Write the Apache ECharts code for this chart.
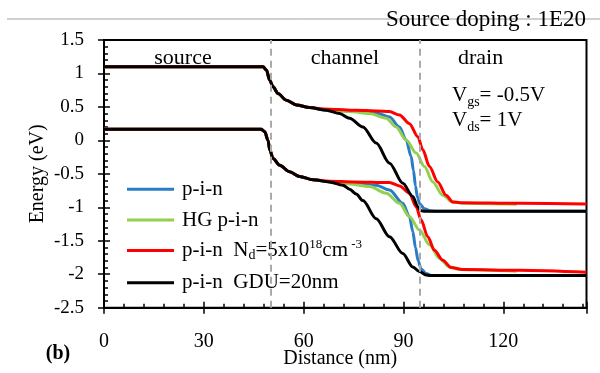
<!DOCTYPE html>
<html>
<head>
<meta charset="utf-8">
<script src="https://cdn.jsdelivr.net/npm/echarts@6/dist/echarts.min.js"></script>
<style>html,body{margin:0;padding:0;background:#fff;}#c{width:600px;height:373px;}</style>
</head>
<body>
<div id="c"></div>
<script>
// ---- data (x: nm, y: eV) ----
const sourceCB = [[0,1.1],[47.8,1.1],[48.8,1.05],[49.8,0.9],[50.8,0.8],[52.3,0.7],[54.8,0.6],[57.8,0.53],[61.8,0.49]];
const sourceVB = [[0,0.165],[47.3,0.165],[48.3,0.13],[49.3,0.0],[49.8,-0.14],[50.8,-0.27],[52.8,-0.37],[55.8,-0.47],[58.8,-0.54],[62.8,-0.59]];

const blueCB  = [[66,0.46],[70,0.45],[73.8,0.44],[81.8,0.41],[85.8,0.35],[88.8,0.2],[90.8,0.005],[92.3,-0.24],[93.0,-0.45],[93.6,-0.68],[94.2,-0.85],[94.9,-0.95],[96.3,-1.02],[97.8,-1.05],[100,-1.06],[145,-1.06]];
const blueVB  = [[67.8,-0.62],[73.8,-0.64],[81.8,-0.67],[85.8,-0.74],[89.8,-0.94],[91.8,-1.14],[92.8,-1.36],[93.6,-1.6],[94.4,-1.8],[95.3,-1.92],[96.8,-1.99],[98.5,-2.02],[145,-2.02]];
const greenCB = [[66,0.46],[70,0.44],[73.8,0.43],[79.8,0.4],[84.8,0.33],[87.8,0.2],[90.8,0.005],[93.8,-0.19],[96.3,-0.39],[98.8,-0.62],[101.8,-0.82],[104.8,-0.92],[108,-0.94],[124,-0.955]];
const greenVB = [[67.8,-0.62],[73.8,-0.65],[79.8,-0.69],[84.8,-0.79],[88.8,-0.94],[91.8,-1.14],[94.8,-1.34],[97.8,-1.56],[100.8,-1.76],[103.8,-1.89],[107,-1.93],[124,-1.955]];
const redCB   = [[66,0.47],[70,0.46],[76,0.45],[82,0.44],[85.8,0.43],[88.8,0.38],[91.8,0.25],[94.3,0.055],[95.8,-0.14],[97.8,-0.39],[100.3,-0.62],[102.8,-0.82],[104.8,-0.92],[107,-0.93],[125,-0.94],[145,-0.95]];
const redVB   = [[67.8,-0.61],[75,-0.62],[85.8,-0.63],[88.8,-0.68],[91.8,-0.79],[93.8,-0.99],[95.3,-1.19],[97.3,-1.44],[99.3,-1.64],[101.8,-1.79],[104.3,-1.9],[107.8,-1.93],[125,-1.94],[145,-1.97]];
const blackCB = [[66.8,0.45],[70.8,0.4],[73.8,0.33],[77.8,0.2],[81.8,-0.04],[85.8,-0.34],[89.8,-0.64],[92.8,-0.84],[94.3,-0.99],[95.3,-1.05],[96.5,-1.06],[145,-1.06]];
const blackVB = [[67.8,-0.62],[71.8,-0.67],[73.8,-0.73],[75.8,-0.8],[77.8,-0.9],[81.8,-1.17],[85.8,-1.44],[89.8,-1.69],[92.8,-1.89],[94.8,-1.96],[96.8,-2.01],[98,-2.02],[145,-2.02]];

const seriesNames = ['p-i-n', 'HG p-i-n', 'p-i-n Nd', 'p-i-n GDU'];
const seriesColors = ['#2a7cc7', '#92d050', '#ff0000', '#000000'];
const regionLabels = ['source', 'channel', 'drain'];
const regionBounds = [50, 95];
const xRange = [0, 145, 30];
const yRange = [-2.5, 1.5, 0.5];

const FONT = 'Liberation Serif';
const chart = echarts.init(document.getElementById('c'), null, {renderer: 'canvas'});

function mk(name, color, pts, extra) {
  return Object.assign({
    type: 'line', name: name, data: pts, showSymbol: false, symbol: 'none',
    smooth: 0.3, smoothMonotone: 'x', animation: false,
    lineStyle: {color: color, width: 3}, itemStyle: {color: color}
  }, extra || {});
}
const curves = [[blueCB, blueVB], [greenCB, greenVB], [redCB, redVB], [blackCB, blackVB]];
const series = [];
curves.forEach((c, i) => {
  series.push(mk(seriesNames[i], seriesColors[i], sourceCB.concat(c[0])));
  series.push(mk(seriesNames[i], seriesColors[i], sourceVB.concat(c[1])));
});
series[series.length - 1].markLine = {
  silent: true, symbol: ['none', 'none'], label: {show: false},
  lineStyle: {type: [7, 5], color: '#aaaaaa', width: 2},
  data: regionBounds.map(v => ({xAxis: v}))
};

const legendText = {
  'p-i-n': 'p-i-n',
  'HG p-i-n': 'HG p-i-n',
  'p-i-n Nd': 'p-i-n  N{sub|d}=5x10{sup|18}cm{sup| -3}',
  'p-i-n GDU': 'p-i-n  GDU=20nm'
};
const legendRows = [189.3, 220, 250.5, 282.7];
const legends = seriesNames.map((n, i) => ({
  data: [n], orient: 'vertical', left: 127, top: legendRows[i] - 12, padding: 0,
  icon: 'rect', itemWidth: 47, itemHeight: 3, selectedMode: false,
  formatter: nm => legendText[nm],
  textStyle: {
    fontFamily: FONT, fontSize: 21, color: '#000', lineHeight: 24, padding: [0, 0, 0, 3],
    rich: {
      sub: {fontFamily: FONT, fontSize: 14, lineHeight: 14, verticalAlign: 'bottom', color: '#000'},
      sup: {fontFamily: FONT, fontSize: 13, lineHeight: 13, verticalAlign: 'top', color: '#000'}
    }
  }
}));

const tickStyle = {color: '#000', width: 1.5};
const option = {
  animation: false,
  backgroundColor: '#fff',
  grid: {left: 104, right: 13.5, top: 40, bottom: 65.3, show: true, borderColor: '#000', borderWidth: 2,
         backgroundColor: 'transparent', containLabel: false, outerBoundsMode: 'none'},
  legend: legends,
  xAxis: [{
    type: 'value', min: xRange[0], max: xRange[1], interval: xRange[2],
    name: 'Distance (nm)', nameLocation: 'middle', nameGap: 41, nameMoveOverlap: false,
    nameTextStyle: {fontFamily: FONT, fontSize: 20, color: '#000', padding: [0, 10, 0, 0]},
    axisLine: {show: true, onZero: false, lineStyle: {color: '#000', width: 2}},
    axisTick: {show: true, inside: true, length: 6, lineStyle: tickStyle},
    minorTick: {show: true, splitNumber: 5, length: 4, lineStyle: tickStyle},
    axisLabel: {fontFamily: FONT, fontSize: 20, color: '#000', margin: 24, showMaxLabel: false},
    splitLine: {show: false}
  }, {
    type: 'value', min: xRange[0], max: xRange[1], interval: xRange[2], position: 'bottom',
    axisLine: {show: false, onZero: false}, axisLabel: {show: false}, splitLine: {show: false},
    axisTick: {show: true, inside: false, length: 6, lineStyle: tickStyle}
  }],
  yAxis: [{
    type: 'value', min: yRange[0], max: yRange[1], interval: yRange[2],
    name: 'Energy (eV)', nameLocation: 'middle', nameGap: 56, nameRotate: 90, nameMoveOverlap: false,
    nameTextStyle: {fontFamily: FONT, fontSize: 20, color: '#000'},
    axisLine: {show: true, onZero: false, lineStyle: {color: '#000', width: 2}},
    axisTick: {show: true, inside: true, length: 6, lineStyle: tickStyle},
    minorTick: {show: true, splitNumber: 5, length: 4, lineStyle: tickStyle},
    axisLabel: {fontFamily: FONT, fontSize: 19, color: '#000', margin: 20},
    splitLine: {show: false}
  }, {
    type: 'value', min: yRange[0], max: yRange[1], interval: yRange[2], position: 'left',
    axisLine: {show: false, onZero: false}, axisLabel: {show: false}, splitLine: {show: false},
    axisTick: {show: true, inside: false, length: 6, lineStyle: tickStyle}
  }],
  series: series,
  graphic: [
    {type: 'line', shape: {x1: 7, y1: 19, x2: 600, y2: 19}, style: {stroke: '#a0a0a0', lineWidth: 1}, z: 1},
    {type: 'text', x: 586, y: 20, z: 10, style: {text: 'Source doping : 1E20', fontFamily: FONT, fontSize: 23, fill: '#000', align: 'right', verticalAlign: 'middle'}},
    {type: 'text', x: 183, y: 58, z: 10, style: {text: regionLabels[0], fontFamily: FONT, fontSize: 22, fill: '#000', align: 'center', verticalAlign: 'middle'}},
    {type: 'text', x: 345, y: 58, z: 10, style: {text: regionLabels[1], fontFamily: FONT, fontSize: 22, fill: '#000', align: 'center', verticalAlign: 'middle'}},
    {type: 'text', x: 458, y: 58, z: 10, style: {text: regionLabels[2], fontFamily: FONT, fontSize: 22, fill: '#000', align: 'left', verticalAlign: 'middle'}},
    {type: 'text', x: 452, y: 85, z: 10, style: {text: '{v|V}{s|gs}{v|= -0.5V}', fill: '#000', rich: {
      v: {fontFamily: FONT, fontSize: 21, lineHeight: 24, fill: '#000', verticalAlign: 'top'},
      s: {fontFamily: FONT, fontSize: 14, lineHeight: 14, fill: '#000', verticalAlign: 'bottom'}
    }}},
    {type: 'text', x: 452, y: 110, z: 10, style: {text: '{v|V}{s|ds}{v|= 1V}', fill: '#000', rich: {
      v: {fontFamily: FONT, fontSize: 21, lineHeight: 24, fill: '#000', verticalAlign: 'top'},
      s: {fontFamily: FONT, fontSize: 14, lineHeight: 14, fill: '#000', verticalAlign: 'bottom'}
    }}},
    {type: 'text', x: 58, y: 354, z: 10, style: {text: '(b)', fontFamily: FONT, fontSize: 20, fontWeight: 'bold', fill: '#000', align: 'center', verticalAlign: 'middle'}}
  ]
};
chart.setOption(option);
</script>
</body>
</html>
